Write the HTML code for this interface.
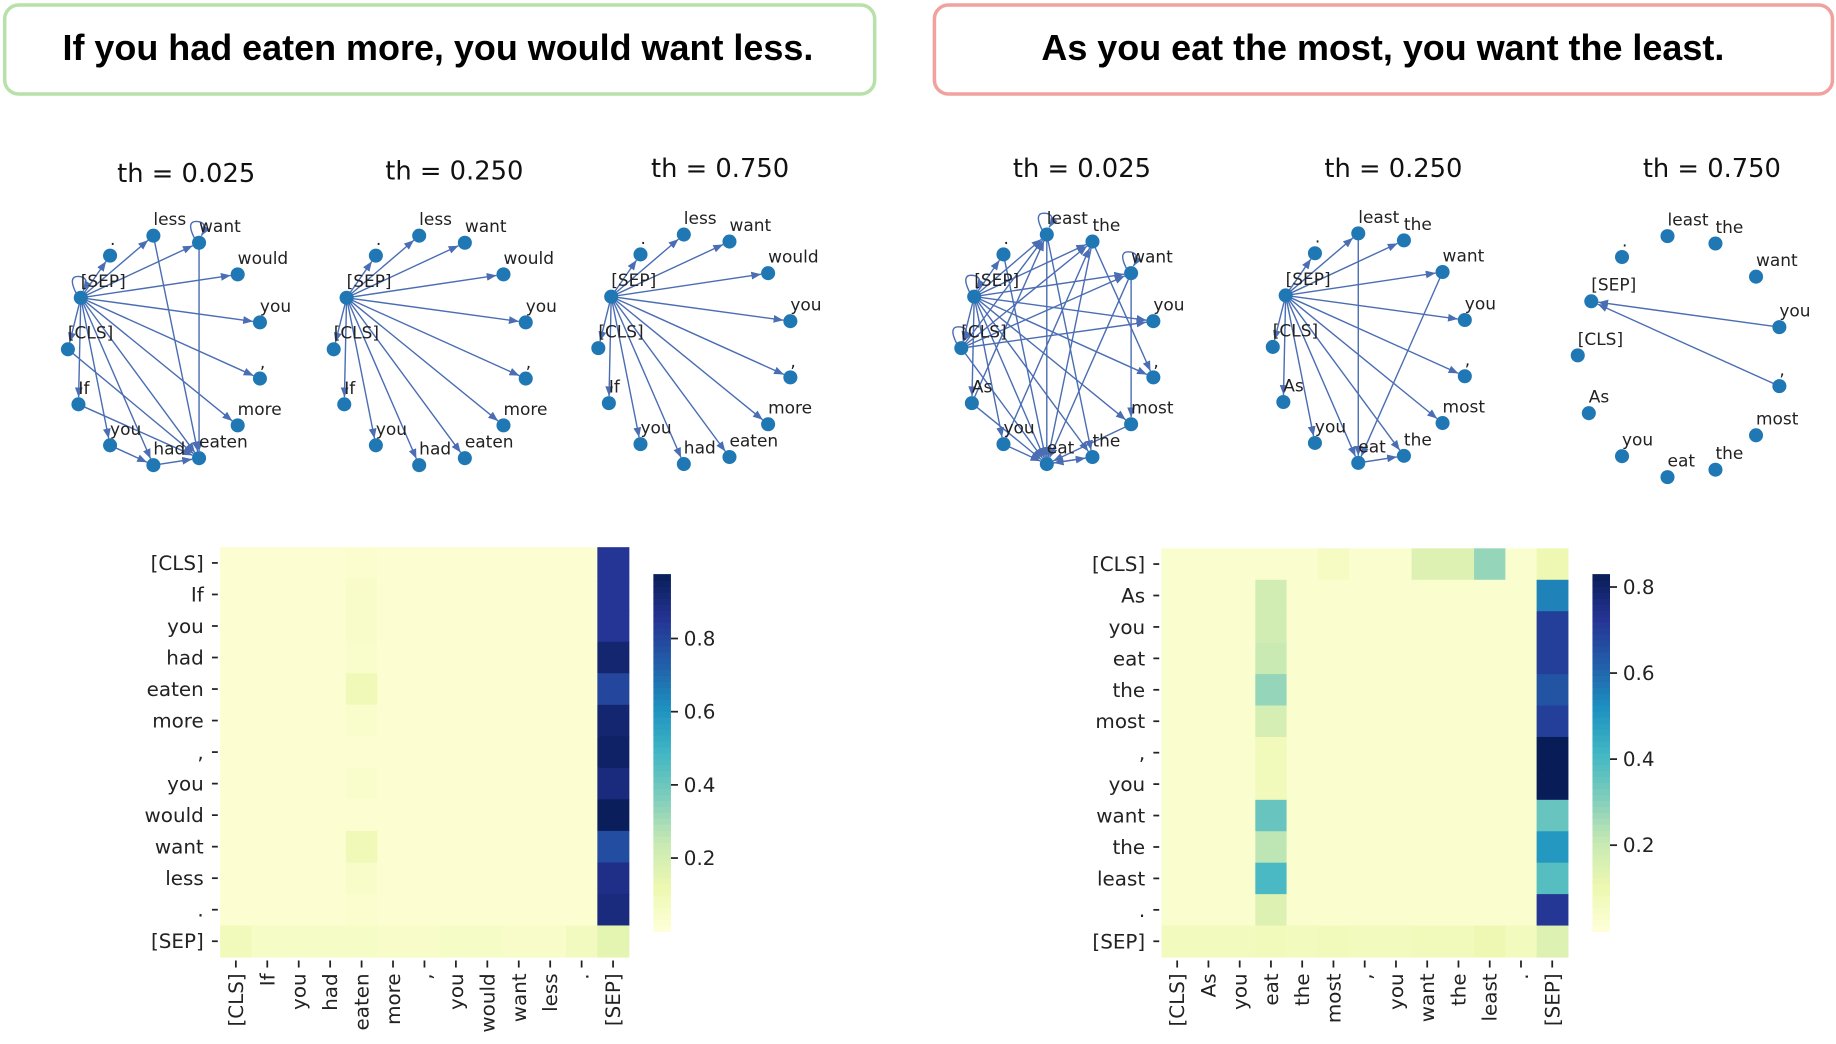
<!DOCTYPE html>
<html><head><meta charset="utf-8">
<style>
html,body{margin:0;padding:0;background:#fff;}
svg{display:block;font-family:"DejaVu Sans","Liberation Sans",sans-serif;}
</style></head>
<body>
<svg id="fig" width="1836" height="1044" viewBox="0 0 1568 891">
<defs>
<marker id="arr" viewBox="0 0 10 10" refX="10" refY="5" markerWidth="7" markerHeight="7" orient="auto-start-reverse">
<path d="M0,1 L10,5 L0,9 z" fill="#4a6db3"/></marker>
</defs>
<rect x="4" y="4" width="743" height="76" rx="12" fill="#fff" stroke="#b8e0a9" stroke-width="3"/>
<text x="374" y="51" text-anchor="middle" font-family="Liberation Sans, sans-serif" font-weight="bold" font-size="30.7">If you had eaten more, you would want less.</text>
<rect x="798" y="4" width="767" height="76" rx="12" fill="#fff" stroke="#f0a29e" stroke-width="3"/>
<text x="1181" y="51" text-anchor="middle" font-family="Liberation Sans, sans-serif" font-weight="bold" font-size="30.7">As you eat the most, you want the least.</text>
<g id="graphs"></g>
<g id="heatmaps"></g>
</svg>
<script>
const NS="http://www.w3.org/2000/svg";
const svg=document.getElementById('fig');
function mk(tag,attrs,parent){const e=document.createElementNS(NS,tag);for(const k in attrs)e.setAttribute(k,attrs[k]);(parent||svg).appendChild(e);return e;}

// ---------- data ----------
const tokensLeft=["[CLS]","If","you","had","eaten","more",",","you","would","want","less",".","[SEP]"];
const tokensRight=["[CLS]","As","you","eat","the","most",",","you","want","the","least",".","[SEP]"];
const thresholds=["0.025","0.250","0.750","0.025","0.250","0.750"];
const layoutDX=[-11,-2,25,62,101,134,153,153,134,101,62,25,0];
const layoutDY=[44,91,126,143,137,109,69,21,-20,-47,-53,-36,0];
const graphOriginX=[69,296,522,832,1098,1359];
const graphOriginY=[254,254,253,253,252,257];
const graphScale=[1,1,1,1,1,1.05];
const titleX=[159,388,615,924,1190,1462];
const titleY=[147,145,143,143,143,143];
const edgesG1=[[12,0],[12,1],[12,2],[12,3],[12,4],[12,5],[12,6],[12,7],[12,8],[12,9],[12,10],[12,11],[10,4],[9,4],[2,3],[3,4],[0,4],[1,4],[12,12],[9,9]];
const edgesG2=[[12,0],[12,1],[12,2],[12,3],[12,4],[12,5],[12,6],[12,7],[12,8],[12,9],[12,10],[12,11]];
const edgesG3=edgesG2;
const edgesG4=[[12,0],[12,1],[12,2],[12,3],[12,4],[12,5],[12,6],[12,7],[12,8],[12,9],[12,10],[12,11],[0,8],[0,9],[0,10],[0,7],[1,3],[2,3],[4,3],[5,3],[8,3],[9,3],[10,3],[11,3],[3,4],[0,3],[8,5],[9,6],[10,4],[1,10],[2,9],[12,12],[10,10],[8,8],[0,0]];
const edgesG5=[[12,0],[12,1],[12,2],[12,3],[12,4],[12,5],[12,6],[12,7],[12,8],[12,9],[12,10],[12,11],[10,3],[8,3],[3,4]];
const edgesG6=[[7,12],[6,12]];
const allEdges=[edgesG1,edgesG2,edgesG3,edgesG4,edgesG5,edgesG6];

const leftSepCol=[0.85,0.85,0.85,0.93,0.80,0.93,0.95,0.90,0.97,0.78,0.88,0.90,0.15];
const leftEatenCol=[0.03,0.05,0.05,0.04,0.10,0.04,0.02,0.04,0.02,0.10,0.05,0.03,0.07];
const leftSepRow=[0.09,0.06,0.06,0.06,0.06,0.05,0.05,0.06,0.06,0.05,0.05,0.08,0.15];
const leftBase=0.02;
const rightSepCol=[0.10,0.55,0.70,0.70,0.65,0.70,0.83,0.83,0.35,0.50,0.38,0.72,0.15];
const rightEatCol=[0.03,0.18,0.18,0.20,0.28,0.17,0.08,0.08,0.35,0.22,0.40,0.15,0.08];
const rightClsRow=[0.03,0.03,0.03,0.03,0.03,0.06,0.03,0.03,0.15,0.15,0.28,0.03,0.10];
const rightSepRow=[0.07,0.07,0.07,0.08,0.07,0.08,0.07,0.07,0.08,0.08,0.10,0.07,0.15];
const rightBase=0.03;
const cbTicksLeft=[0.2,0.4,0.6,0.8];
const cbTicksRight=[0.2,0.4,0.6,0.8];

const cmap=["#ffffd9","#edf8b1","#c7e9b4","#7fcdbb","#41b6c4","#1d91c0","#225ea8","#253494","#081d58"];
function hex(h){return [1,3,5].map(i=>parseInt(h.substr(i,2),16));}
function color(t){t=Math.max(0,Math.min(1,t));const p=t*8;const i=Math.min(7,Math.floor(p));const f=p-i;const a=hex(cmap[i]),b=hex(cmap[i+1]);return `rgb(${a.map((v,k)=>Math.round(v+(b[k]-v)*f)).join(',')})`;}

const gG=document.getElementById('graphs');
for(let g=0;g<6;g++){
  const toks=g<3?tokensLeft:tokensRight;
  const grp=mk('g',{},gG);
  
  
  const t=mk('text',{x:titleX[g],y:titleY[g]+8,'text-anchor':'middle','font-size':22,fill:'#111'},grp);
  t.textContent='th = '+thresholds[g];
  
  
  const px=i=>graphOriginX[g]+layoutDX[i]*graphScale[g];
  const py=i=>graphOriginY[g]+layoutDY[i]*graphScale[g];
  for(const [a,b] of allEdges[g]){
    let el;
    if(a===b){
      el=mk('path',{d:`M${px(a)-4},${py(a)-4} q-8,-16 4,-14 q8,2 2,12`,fill:'none',stroke:'#4a6db3','stroke-width':1.2,'marker-end':'url(#arr)'},grp);
    }else{
      const x1=px(a),y1=py(a),x2=px(b),y2=py(b);const d=Math.hypot(x2-x1,y2-y1);
      const ux=(x2-x1)/d,uy=(y2-y1)/d;
      el=mk('line',{x1:x1,y1:y1,x2:x2-ux*6,y2:y2-uy*6,stroke:'#4a6db3','stroke-width':1.2,'marker-end':'url(#arr)'},grp);
    }
    
    
  }
  for(let i=0;i<13;i++){
    const c=mk('circle',{cx:px(i),cy:py(i),r:6,fill:'#1f77b4'},grp);
    
    
    const l=mk('text',{x:px(i),y:py(i)-9,'font-size':14.5,fill:'#222'},grp);
    l.textContent=toks[i];
    
    
  }
}

const hG=document.getElementById('heatmaps');
function heat(opts){
  const {x0,y0,w,h,toks,val,vmax,cbx,cby0,cby1,ticks,name}=opts;
  const grp=mk('g',{},hG);
  
  
  const cw=w/13,ch=h/13;
  const X=j=>x0+j*cw, Y=i=>y0+i*ch;
  for(let i=0;i<13;i++)for(let j=0;j<13;j++){
    const r=mk('rect',{x:X(j),y:Y(i),width:cw+0.5,height:ch+0.5,fill:color(val(i,j)/vmax)},grp);
    
    
  }
  for(let i=0;i<13;i++){
    const t=mk('text',{x:x0-14,y:Y(i)+ch/2+6,'text-anchor':'end','font-size':17,fill:'#222'},grp);
    t.textContent=toks[i];
    
    
    mk('line',{x1:x0-7,x2:x0-2,y1:Y(i)+ch/2,y2:Y(i)+ch/2,stroke:'#222','stroke-width':1.5},grp);
    const cx=X(i)+cw/2;
    mk('line',{x1:cx,x2:cx,y1:y0+h+3,y2:y0+h+9,stroke:'#222','stroke-width':1.5},grp);
    const xt=mk('text',{x:0,y:0,'text-anchor':'end','font-size':17,fill:'#222',transform:`translate(${cx+6},${y0+h+14}) rotate(-90)`},grp);
    xt.textContent=toks[i];
    
    
  }
  const cbg=mk('g',{},grp);
  
  
  const n=60;
  for(let k=0;k<n;k++){
    const yy=cby1-(k+1)*(cby1-cby0)/n;
    mk('rect',{x:cbx,y:yy,width:15,height:(cby1-cby0)/n+0.6,fill:color((k+0.5)/n)},cbg);
  }
  for(const tv of ticks){
    const yy=cby1-(tv/vmax)*(cby1-cby0);
    mk('line',{x1:cbx+15,x2:cbx+21,y1:yy,y2:yy,stroke:'#222','stroke-width':1.5},cbg);
    const t=mk('text',{x:cbx+26,y:yy+6,'font-size':17,fill:'#222'},cbg);
    t.textContent=tv.toFixed(1);
    
    
  }
}
heat({x0:188,y0:467,w:349,h:350,toks:tokensLeft,vmax:0.976,cbx:558,cby0:490,cby1:795,ticks:cbTicksLeft,name:'left-attention-heatmap',
  val:(i,j)=>j===12?leftSepCol[i]:(i===12?leftSepRow[j]:(j===4?leftEatenCol[i]:leftBase))});
heat({x0:992,y0:468,w:347,h:349,toks:tokensRight,vmax:0.83,cbx:1360,cby0:490,cby1:795,ticks:cbTicksRight,name:'right-attention-heatmap',
  val:(i,j)=>j===12?rightSepCol[i]:(i===12?rightSepRow[j]:(i===0?rightClsRow[j]:(j===3?rightEatCol[i]:rightBase)))});
</script>
</body></html>
